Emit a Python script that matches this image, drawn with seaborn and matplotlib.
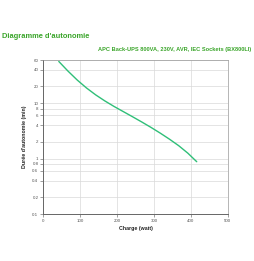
import numpy as np
import pandas as pd
import seaborn as sns
import matplotlib.pyplot as plt
from matplotlib.ticker import FixedLocator, NullLocator

# Autonomy curve
load_w = [42, 67, 92, 117, 142, 167, 192, 217, 242, 267, 292, 317, 342, 367, 392, 416]
runtime_min = [56.5, 37.8, 26.1, 18.8, 14.1, 10.95, 8.7, 7.03, 5.68, 4.57, 3.65, 2.88, 2.24, 1.71, 1.25, 0.878]
y_ticks = [0.1, 0.2, 0.4, 0.6, 0.8, 1, 2, 4, 6, 8, 10, 20, 40, 60]
x_ticks = [0, 100, 200, 300, 400, 500]

df = pd.DataFrame({"Charge": load_w, "Autonomie": runtime_min})

sns.set_style("white")
plt.rcParams['font.family'] = ['Liberation Sans', 'DejaVu Sans']

fig = plt.figure(figsize=(2.54, 2.61), dpi=100)
ax = fig.add_axes([43.3 / 254, 1 - 214 / 261, (227.7 - 43.3) / 254, (214 - 60) / 261])

sns.lineplot(data=df, x="Charge", y="Autonomie", ax=ax, color="#2fbf78", linewidth=1.0)
ax.set_yscale("log")
ax.set_xlim(0, 500)
ax.set_ylim(0.1, 60)
ax.yaxis.set_major_locator(FixedLocator(y_ticks))
ax.yaxis.set_minor_locator(NullLocator())
ax.set_yticklabels([f"{t:g}" for t in y_ticks])
ax.set_xticks(x_ticks)
ax.grid(True, color="#d9d9d9", linewidth=0.5)
ax.tick_params(axis="both", labelsize=3.2, colors="#555555", length=2, width=0.4, pad=1.5)
ax.tick_params(left=True, bottom=True)
for side in ["left", "bottom"]:
    ax.spines[side].set_color("#666666")
    ax.spines[side].set_linewidth(0.7)
for side in ["top", "right"]:
    ax.spines[side].set_color("#999999")
    ax.spines[side].set_linewidth(0.5)

ax.set_xlabel("Charge (watt)", fontsize=3.8, fontweight="bold", color="#222222", labelpad=2)
ax.set_ylabel("Durée d'autonomie (min)", fontsize=3.8, fontweight="bold", color="#222222", labelpad=4)

fig.text(2 / 254, 1 - 36 / 261, "Diagramme d'autonomie", fontsize=5.4, fontweight="bold",
         color="#3aa52a", ha="left", va="center")
fig.text(251 / 254, 1 - 49 / 261, "APC Back-UPS 800VA, 230V, AVR, IEC Sockets (BX800LI)",
         fontsize=4.1, fontweight="bold", color="#3aa52a", ha="right", va="center")

fig.savefig("out.png", dpi=100)
